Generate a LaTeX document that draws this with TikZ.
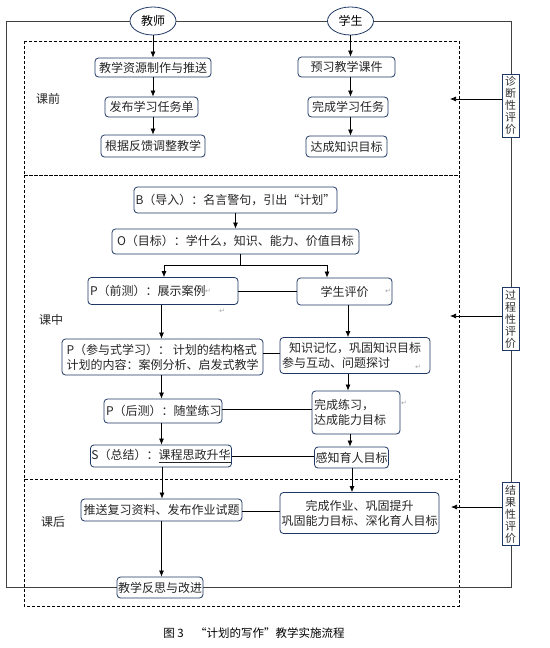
\documentclass[tikz,border=0pt]{standalone}
\usepackage{fontspec}
\setmainfont{Noto Sans CJK SC}
\newfontfamily\dejavu{DejaVu Sans}
\usetikzlibrary{arrows.meta,shapes.geometric}
\definecolor{navy}{RGB}{31,56,100}
\begin{document}
\begin{tikzpicture}[x=1pt,y=-1pt,
  box/.style={draw=navy, line width=0.8pt, rounded corners=3.5pt, fill=white, inner sep=1pt,
    font=\fontsize{12}{15}\selectfont, text=black!85},
  oval/.style={draw=navy, line width=0.8pt, ellipse, fill=white, inner sep=0pt,
    minimum width=46pt, minimum height=28pt, font=\fontsize{12}{14}\selectfont},
  evalbox/.style={draw=navy, line width=0.8pt, fill=white, inner sep=0pt, align=center,
    minimum width=17pt, minimum height=63pt, font=\fontsize{11}{12}\selectfont, text=black!80},
  arr/.style={-{Latex[length=6pt,width=5pt]}, line width=0.7pt},
  ln/.style={line width=0.7pt},
  frame/.style={line width=0.9pt, draw=black!75},
  dbox/.style={dashed, dash pattern=on 3pt off 2pt, line width=0.6pt},
  lbl/.style={font=\fontsize{12}{14}\selectfont, text=black!85},
  pmark/.style={font=\dejavu\fontsize{7}{8}\selectfont, text=black!35, inner sep=0pt},
]
\useasboundingbox (0,0) rectangle (549,648);

% dashed section frames
\draw[dbox] (24,41) rectangle (459,175);
\draw[dbox] (24,175) rectangle (459,479);
\draw[dbox] (24,479) rectangle (459,606);

% section labels
\node[lbl] (lq) at (48,99) {课前};
\node[lbl] (lz) at (51,320) {课中};
\node[lbl] (lh) at (53,522) {课后};

% ellipses
\node[oval] (te) at (153,21) {教师};
\node[oval] (st) at (350.5,21) {学生};

% pre-class
\node[box, minimum width=116pt, minimum height=19pt] (t1) at (153,67.5) {教学资源制作与推送};
\node[box, minimum width=93pt, minimum height=20pt] (t2) at (151.5,107) {发布学习任务单};
\node[box, minimum width=104pt, minimum height=22pt] (t3) at (153,146) {根据反馈调整教学};
\node[box, minimum width=97pt, minimum height=20pt] (s1) at (346.5,67) {预习教学课件};
\node[box, minimum width=80pt, minimum height=20pt] (s2) at (348,107) {完成学习任务};
\node[box, minimum width=81pt, minimum height=21pt] (s3) at (346.5,146.5) {达成知识目标};

% in-class
\node[box, minimum width=203pt, minimum height=26pt] (b) at (235.5,200) {B（导入）：名言警句，引出“计划”};
\node[box, minimum width=247pt, minimum height=25pt] (o) at (235.5,241.5) {O（目标）：学什么，知识、能力、价值目标};
\node[box, minimum width=150pt, minimum height=27pt, text width=146pt, align=left] (p1) at (163,291) {P（前测）：展示案例};
\node[box, minimum width=95pt, minimum height=27pt] (s4) at (344.5,291.5) {学生评价};
\node[box, minimum width=201pt, minimum height=36pt, align=left] (p2) at (162.5,357) {P（参与式学习）： 计划的结构格式\\计划的内容：案例分析、启发式教学};
\node[box, minimum width=150pt, minimum height=36pt, align=left, text width=146pt] (s5) at (355,355.5) {\hspace{0.6em}知识记忆，巩固知识目标\\参与互动、问题探讨};
\node[box, minimum width=118pt, minimum height=24pt, text width=114pt, align=left] (p3) at (163,411) {P（后测）：随堂练习};
\node[box, minimum width=88pt, minimum height=43pt, text width=84pt, align=left] (s6) at (356,412.5) {完成练习，\\达成能力目标};
\node[box, minimum width=140pt, minimum height=22pt] (p4) at (161,456) {S（总结）：\underline{课程思政升华}};
\node[box, minimum width=73pt, minimum height=21pt] (s7) at (351.5,457.5) {感知育人目标};

% after class
\node[box, minimum width=161pt, minimum height=22pt, inner sep=0pt] (p5) at (161.5,510) {推送复习资料、发布作业试题};
\node[box, minimum width=159pt, minimum height=41pt, align=center, inner sep=0pt] (s8) at (359.5,513) {完成作业、巩固提升\\巩固能力目标、深化育人目标};
\node[box, minimum width=86pt, minimum height=21pt, inner sep=0pt] (r) at (160,587.5) {教学反思与改进};

% outer frame
\coordinate (cTL) at (6.5,21);
\coordinate (cBL) at (6.5,587.5);
\coordinate (cTR) at (511,21);
\coordinate (cBR) at (511,587.5);
\draw[frame] (te.west) -- (cTL) -- (cBL) -- (r.west);
\draw[frame] (te.east) -- (st.west);
\draw[frame] (st.east) -- (cTR) -- (cBR) -- (r.east);

% evaluation boxes
\node[evalbox] (e1) at (510.5,105.5) {诊\\断\\性\\评\\价};
\node[evalbox] (e2) at (510.5,319) {过\\程\\性\\评\\价};
\node[evalbox] (e3) at (510.5,514) {结\\果\\性\\评\\价};
\coordinate (a1) at (450,99);
\coordinate (a2) at (450,316);
\coordinate (a3) at (451,507);
\draw[arr] (e1.west |- a1) -- (a1);
\draw[arr] (e2.west |- a2) -- (a2);
\draw[arr] (e3.west |- a3) -- (a3);

% pre-class arrows
\draw[arr] (te.south) -- (t1.north);
\draw[arr] (t1.south) -- (t2.north -| t1.south);
\draw[arr] (t2.south -| t1.south) -- (t3.north -| t1.south);
\draw[arr] (st.south) -- (s1.north -| st.south);
\draw[arr] (s1.south -| st.south) -- (s2.north -| st.south);
\draw[arr] (s2.south -| st.south) -- (s3.north -| st.south);

% in-class arrows
\draw[arr] (b.south) -- (o.north);
\coordinate (j) at (240,265);
\coordinate (jl) at (164,265);
\coordinate (jr) at (327,265);
\draw[ln] (o.south -| j) -- (j);
\draw[ln] (jl) -- (jr);
\draw[arr] (jl) -- (p1.north -| jl);
\draw[arr] (jr) -- (s4.north -| jr);
\draw[ln] (p1.east) -- (p1.east -| s4.west);

\coordinate (xl) at (161.5,0);
\coordinate (xr) at (348,0);
\draw[arr] (p1.south -| xl) -- (p2.north -| xl);
\draw[arr] (s4.south -| xr) -- (s5.north -| xr);
\draw[ln] (p2.east |- 0,353) -- (s5.west |- 0,353);
\draw[arr] (p2.south -| xl) -- (p3.north -| xl);
\draw[arr] (s5.south -| xr) -- (s6.north -| xr);
\draw[ln] (p3.east |- 0,409) -- (s6.west |- 0,409);
\draw[arr] (p3.south -| xl) -- (p4.north -| xl);
\coordinate (xr2) at (350,0);
\draw[arr] (s6.south -| xr2) -- (s7.north -| xr2);
\draw[ln] (p4.east) -- (s7.west |- p4.east);

% after-class arrows
\coordinate (xl2) at (162,0);
\coordinate (xr3) at (352,0);
\draw[arr] (p4.south -| xl2) -- (p5.north -| xl2);
\draw[arr] (s7.south -| xr3) -- (s8.north -| xr3);
\draw[ln] (p5.east |- 0,511) -- (s8.west |- 0,511);
\draw[arr] (p5.south -| xl) -- (r.north -| xl);

% paragraph marks
\node[pmark] (m1) at (208,291) {↵};
\node[pmark] (m2) at (388,291) {↵};
\node[pmark] (m3) at (222,311) {↵};
\node[pmark] (m4) at (418,367) {↵};
\node[pmark] (m5) at (404,403) {↵};

% caption
\node[font=\fontsize{11.5}{13}\selectfont] (cap) at (254,633) {图 3\quad “计划的写作”教学实施流程};
\end{tikzpicture}
\end{document}
